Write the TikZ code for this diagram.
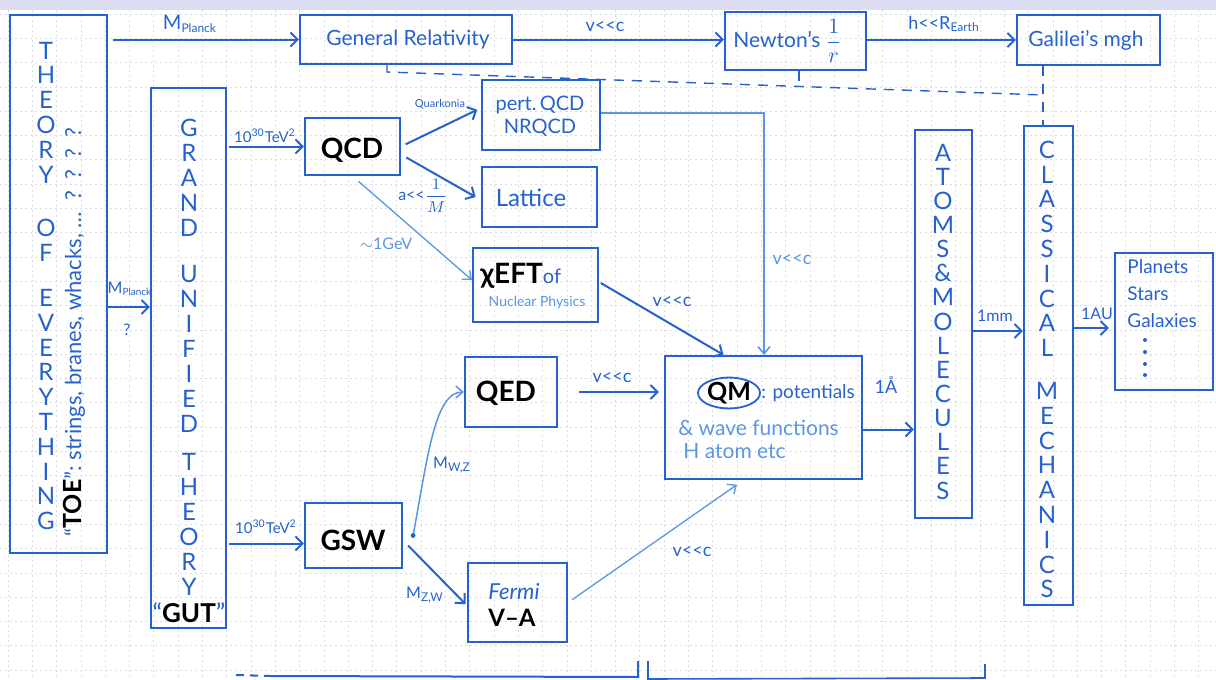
\documentclass[tikz,border=0pt]{standalone}
\usepackage{fontspec}
\setmainfont{Lato}
\usetikzlibrary{fit,arrows.meta,shapes.geometric}
\definecolor{pen}{RGB}{38,98,205}
\definecolor{penlt}{RGB}{90,150,228}
\definecolor{strip}{RGB}{220,220,243}
\definecolor{gridc}{RGB}{218,220,230}
\newcommand{\llc}{v<{}<c}
\begin{document}
\begin{tikzpicture}[x=0.5pt,y=-0.5pt,
  box/.style={draw=pen,line width=1.1pt,inner sep=0pt},
  arr/.style={draw=pen,line width=1pt,-{Straight Barb[length=3.5pt,width=7pt]}},
  tarr/.style={draw=penlt,line width=0.65pt,-{Straight Barb[length=3.5pt,width=6pt]}},
  dsh/.style={draw=pen,line width=0.7pt,dash pattern=on 5pt off 4pt},
  lbl/.style={text=pen,inner sep=0pt,font=\fontsize{8}{9}\selectfont},
  vlbl/.style={text=pen,inner sep=0pt,font=\fontsize{9}{10}\selectfont},
  hw/.style={text=pen,inner sep=0pt,font=\fontsize{10.5}{12}\selectfont},
  bk/.style={text=black,inner sep=0pt,font=\fontsize{14}{16}\selectfont\bfseries},
  vst/.style={text=pen,inner sep=0pt,align=center,anchor=north},
  gl/.style={gridc,line width=0.4pt,dash pattern=on 1pt off 1.5pt}
]
\useasboundingbox (0,0) rectangle (1216,680);
\fill[white] (0,0) rectangle (1216,680);
\foreach \k in {0,...,50} {\draw[gl] (\k*24.3+8,10) -- (\k*24.3+8,680);}
\foreach \k in {0,...,27} {\draw[gl] (0,\k*24.3+14) -- (1216,\k*24.3+14);}
\fill[strip] (0,0) rectangle (1216,10);

% boxes
\node[box,fit={(10,15)(107,553)}] (toe) {};
\node[box,fit={(300,15)(512,64)}] (gr) {};
\node[box,fit={(725,12)(866,70)}] (newton) {};
\node[box,fit={(1017,15)(1160,65)}] (galilei) {};
\node[box,fit={(151,88)(226,628)}] (gut) {};
\node[box,fit={(305,118)(400,175)}] (qcd) {};
\node[box,fit={(482,80)(600,150)}] (pqcd) {};
\node[box,fit={(482,167)(597,227)}] (lattice) {};
\node[box,fit={(473,248)(598,322)}] (cheft) {};
\node[box,fit={(465,357)(557,427)}] (qed) {};
\node[box,fit={(665,356)(862,479)}] (qm) {};
\node[box,fit={(915,130)(972,518)}] (atoms) {};
\node[box,fit={(1024,126)(1073,605)}] (cm) {};
\node[box,fit={(1115,253)(1213,390)}] (planets) {};
\node[box,fit={(305,503)(402,568)}] (gsw) {};
\node[box,fit={(468,563)(567,642)}] (fermi) {};

% texts
\node[vst,font=\fontsize{12}{12.4}\selectfont] (toetxt) at (46,41.5) {T\\H\\E\\O\\R\\Y\\[14.5pt]O\\F\\[10pt]E\\V\\E\\R\\Y\\T\\H\\I\\N\\G};
\node[text=pen,inner sep=0pt,rotate=90,anchor=west,font=\fontsize{11}{12}\selectfont] (toenote) at (74,537) {``{\color{black}\bfseries\fontsize{12.5}{12}\selectfont TOE}'': strings, branes, whacks, \dots\ \ ?\ \ ?\ \ ?\ \ ?};
\node[vst,font=\fontsize{12}{12.5}\selectfont] (guttxt) at (189,118.5) {G\\R\\A\\N\\D\\[10.5pt]U\\N\\I\\F\\I\\E\\D\\[6.5pt]T\\H\\E\\O\\R\\Y};
\node[text=black,inner sep=0pt,font=\fontsize{13}{13}\selectfont\bfseries] (gutlbl) at (189,613) {{\color{pen}\mdseries``}GUT{\color{pen}\mdseries''}};
\node[vst,font=\fontsize{12}{12.07}\selectfont] (atomstxt) at (943,143.5) {A\\T\\O\\M\\S\\\&\\M\\O\\L\\E\\C\\U\\L\\E\\S};
\node[vst,font=\fontsize{12}{12.4}\selectfont] (cmtxt) at (1047,140.5) {C\\L\\A\\S\\S\\I\\C\\A\\L\\[9pt]M\\E\\C\\H\\A\\N\\I\\C\\S};

\node[hw] (grtxt) at (408,40) {General Relativity};
\node[hw,anchor=west] (newtontxt) at (733,41) {Newton's $\displaystyle\frac{1}{r}$};
\node[hw] (galileitxt) at (1086,40) {Galilei's mgh};
\node[hw,align=center,font=\fontsize{10}{11.5}\selectfont] (pqcdtxt) at (540,116) {pert.\,QCD\\NRQCD};
\node[hw,font=\fontsize{12}{14}\selectfont] (latticetxt) at (531,198) {Lattice};
\node[bk] (qcdtxt) at (352,150) {QCD};
\node[bk] (qedtxt) at (506,393) {QED};
\node[bk] (gswtxt) at (353,540) {GSW};
\node[bk,anchor=west] (chefttxt) at (480,276) {χEFT{\color{pen}\mdseries\fontsize{10}{10}\selectfont of}};
\node[text=penlt,inner sep=0pt,font=\fontsize{7}{8}\selectfont] (nuctxt) at (537,303) {Nuclear Physics};
\node[ellipse,draw=pen,line width=0.9pt,inner sep=0pt,text=black,font=\fontsize{12.5}{13}\selectfont\bfseries] (qmell) at (729,393) {QM};
\node[hw,anchor=west,font=\fontsize{9.5}{11}\selectfont] (qm1) at (qmell.east) {: potentials};
\node[hw,anchor=west,text=penlt] (qm2) at (678,428) {\& wave functions};
\node[hw,anchor=west,text=penlt] (qm3) at (683,451) {H atom etc};
\node[hw,font=\fontsize{11}{12}\selectfont\itshape] (fermitxt) at (514,592) {Fermi};
\node[bk,font=\fontsize{12}{12}\selectfont\bfseries] (vatxt) at (512,618) {V–A};
\node[hw,anchor=north west,align=left,font=\fontsize{9.5}{13.5}\selectfont] (planetstxt) at (1127,259) {Planets\\Stars\\Galaxies};
\foreach \yy in {340,352,364,375} {\fill[pen] (1145,\yy) circle[radius=1pt];}

% connectors
\coordinate (ytg) at (0,307);
\coordinate (yA) at (0,331);
\coordinate (yB) at (0,328);
\coordinate (pc) at (764,113);
\coordinate (gswin) at ([yshift=-4pt]gsw.west);
\coordinate (qa) at ([yshift=-6pt]qm.east);
\draw[arr,shorten <=2.5pt] (toe.east |- gr.west) -- (gr.west);
\draw[arr] (gr.east) -- (newton.west |- gr.east);
\draw[arr] (newton.east |- galilei.west) -- (galilei.west);
\draw[arr] (toe.east |- ytg) -- (gut.west |- ytg);
\draw[arr,shorten <=1pt] (gut.east |- qcd.west) -- (qcd.west);
\draw[arr,shorten <=1pt] (gut.east |- gswin) -- (gswin);
\draw[arr,shorten <=2.5pt,shorten >=2pt] (qcd.east) -- ([yshift=3.5pt]pqcd.west);
\draw[arr,shorten <=3pt,shorten >=3pt] ([yshift=-4pt]qcd.east) -- ([yshift=-1.5pt]lattice.west);
\draw[tarr,shorten <=4pt] (qcd.south) -- ([yshift=2.5pt]cheft.west);
\draw[tarr,line width=0.8pt] (pqcd.east |- pc) -- (pc) -- (pc |- qm.north);
\draw[arr,shorten <=1pt] ([yshift=1.5pt]cheft.east) -- ([xshift=-20pt]qm.north);
\draw[arr,shorten <=10.5pt,shorten >=2.5pt] (qed.east) -- (qm.west |- qed.east);
\draw[arr] (qa) -- (qa -| atoms.west);
\draw[arr] (atoms.east |- yA) -- (cm.west |- yA);
\draw[arr,shorten >=2.5pt] (cm.east |- yB) -- (planets.west |- yB);
\draw[tarr,line width=0.75pt] ([xshift=5pt]gsw.east) .. controls (428,455) and (435,392) .. (qed.west);
\fill[pen] ([xshift=5pt]gsw.east) circle[radius=1.2pt];
\draw[arr,shorten >=1pt] ([xshift=2.5pt,yshift=-5pt]gsw.east) -- ([yshift=-1.5pt]fermi.west);
\draw[tarr,shorten <=2.5pt,shorten >=4pt] (fermi.east) -- ([xshift=-10pt]qm.south);

% dashed links
\coordinate (d1) at (387,72);
\coordinate (d2) at (1043,95);
\coordinate (d3) at (799,87);
\draw[dsh] (gr.south -| d1) -- (d1) -- (d2);
\draw[dsh] (galilei.south -| d2) -- (cm.north -| d2);
\draw[dsh] (newton.south -| d3) -- (d3);

% bottom line
\draw[pen,line width=1pt,dash pattern=on 4pt off 3pt] (236,675) -- (270,676);
\draw[pen,line width=1pt] (270,676) -- (638,677) -- (638,661);
\draw[pen,line width=0.8pt] (648,661) -- (648,679) -- (985,678) -- (985,664);

% labels
\node[lbl,font=\fontsize{10}{10}\selectfont] (lmp1) at (190,24) {M\textsubscript{\fontsize{6}{6}\selectfont Planck}};
\node[vlbl] (lv1) at (605,27) {\llc};
\node[vlbl] (lh) at (944,24) {h<{}<R\textsubscript{\fontsize{6}{6}\selectfont Earth}};
\node[lbl] (lmp2) at (130,289) {M\textsubscript{\fontsize{5}{5}\selectfont Planck}};
\node[lbl] (lq1) at (127,330) {?};
\node[lbl,font=\fontsize{7.5}{8}\selectfont] (lt1) at (265,136) {10\textsuperscript{30}TeV\textsuperscript{2}};
\node[lbl,font=\fontsize{7.5}{8}\selectfont] (lt2) at (266,527) {10\textsuperscript{30}TeV\textsuperscript{2}};
\node[lbl,font=\fontsize{5.5}{6}\selectfont] (lquark) at (440,104) {Quarkonia};
\node[lbl,anchor=east] (la) at (448,196) {a<{}<$\displaystyle\frac{1}{M}$};
\node[lbl,text=penlt] (lgev) at (386,244) {$\sim$1GeV};
\node[vlbl,text=penlt] (lv2) at (792,260) {\llc};
\node[vlbl] (lv3) at (672,302) {\llc};
\node[vlbl] (lv4) at (612,378) {\llc};
\node[vlbl] (lang) at (886,385) {1Å};
\node[lbl] (lmm) at (995,316) {1mm};
\node[lbl] (lau) at (1097,314) {1AU};
\node[lbl] (lwz) at (452,465) {M\textsubscript{W,Z}};
\node[lbl] (lzw) at (425,595) {M\textsubscript{Z,W}};
\node[vlbl] (lv5) at (692,552) {\llc};
\end{tikzpicture}
\end{document}
